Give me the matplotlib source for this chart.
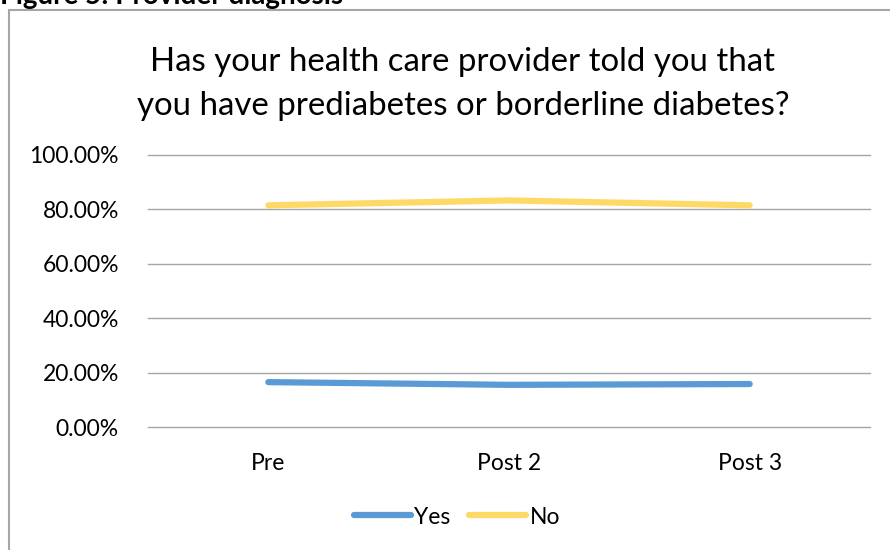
import matplotlib.pyplot as plt
from matplotlib.patches import Rectangle
from matplotlib.ticker import FuncFormatter

# survey answers, share of respondents per wave
waves = ["Pre", "Post 2", "Post 3"]
yes_share = [16.5, 15.5, 15.8]
no_share = [81.5, 83.3, 81.5]

plt.rcParams["font.family"] = ["Lato", "DejaVu Sans"]

fig = plt.figure(figsize=(8.9, 5.5), dpi=100)
ax = fig.add_axes([148/890, 1-427/550, 722/890, 272/550])

# chart frame (right and bottom edges run off the page)
fig.patches.append(Rectangle((9/890, -0.1), 1.2, 1-10/550+0.1,
                             transform=fig.transFigure, fill=False,
                             edgecolor="#a6a6a6", linewidth=1.5))

fig.text(0.0, 1-4/550, "Figure 5: Provider diagnosis", fontsize=20,
         fontweight="bold", ha="left", va="baseline")

fig.text(463/890, 1-62/550, "Has your health care provider told you that",
         fontsize=23.8, ha="center", va="center", color="#000000")
fig.text(463/890, 1-106/550, "you have prediabetes or borderline diabetes?",
         fontsize=23.8, ha="center", va="center", color="#000000")

x = range(len(waves))
ax.plot(x, yes_share, color="#5b9bd5", linewidth=4.5,
        solid_capstyle="round", solid_joinstyle="round", label="Yes")
ax.plot(x, no_share, color="#ffd966", linewidth=4.5,
        solid_capstyle="round", solid_joinstyle="round", label="No")

ax.set_xlim(-0.5, 2.5)
ax.set_ylim(0, 100)
ax.set_yticks(range(0, 101, 20))
ax.yaxis.set_major_formatter(FuncFormatter(lambda v, p: f"{v:.2f}%"))
ax.set_xticks(list(x))
ax.set_xticklabels(waves)
ax.tick_params(length=0, labelsize=16.5, colors="#000000")
ax.tick_params(axis="y", pad=21)
ax.tick_params(axis="x", pad=19)
ax.grid(axis="y", color="#a6a6a6", linewidth=1.0)
for gl in ax.get_ygridlines():
    gl.set_clip_on(False)
ax.set_axisbelow(True)
for s in ax.spines.values():
    s.set_visible(False)

ax.legend(loc="center", bbox_to_anchor=(457/890, 1-517/550),
          bbox_transform=fig.transFigure, ncol=2, frameon=False,
          fontsize=16.5, handlelength=2.5, handletextpad=0.15,
          columnspacing=0.8)

fig.savefig("out.png", dpi=100)
